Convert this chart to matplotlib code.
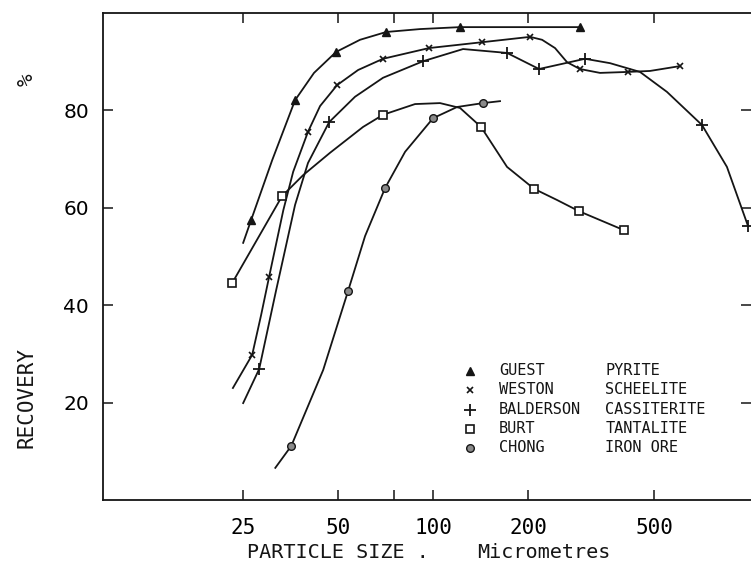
import matplotlib.pyplot as plt
from matplotlib.ticker import FixedLocator, NullFormatter
from matplotlib.lines import Line2D

# recovery (%) against particle size (micrometres), traced curve points;
# *_marks are the indices of the measured points drawn with a symbol
guest_x = [25.0, 26.5, 30.9, 36.5, 41.9, 49.2, 58.6, 70.9, 90.8, 121.5, 291]
guest_y = [52.8, 57.5, 69.8, 82.1, 87.7, 92.0, 94.5, 96.1, 96.7, 97.1, 97.1]
guest_marks = [1, 3, 5, 7, 9, 10]

weston_x = [23.2, 26.7, 28.5, 30.2, 33.5, 36.0, 40.1, 43.8, 49.6, 57.8, 69.3,
            96.9, 142.6, 202.4, 220.9, 242.8, 265, 291, 337, 413, 485, 604]
weston_y = [23.0, 29.8, 38.0, 45.8, 59.5, 67.4, 75.6, 80.9, 85.2, 88.3, 90.6,
            92.8, 94.0, 95.1, 94.5, 92.8, 89.9, 88.5, 87.7, 87.9, 88.1, 89.1]
weston_marks = [1, 3, 6, 8, 10, 11, 12, 13, 17, 19, 21]

balderson_x = [25.0, 28.1, 31.8, 36.5, 40.1, 46.8, 56.5, 69.3, 92.8, 124.2,
               171.1, 216.1, 302.1, 362.5, 451, 549, 708.7, 850, 990.8]
balderson_y = [19.9, 26.9, 43.1, 60.6, 69.2, 77.6, 82.8, 86.7, 90.1, 92.6,
               91.8, 88.5, 90.6, 89.7, 87.9, 83.8, 77.0, 68.4, 56.3]
balderson_marks = [1, 5, 8, 10, 11, 12, 16, 18]

burt_x = [23.1, 33.2, 38.7, 47.1, 59.9, 69.3, 87.5, 105.0, 121.5, 141.6,
          171.1, 208.4, 246.4, 289.2, 401.4]
burt_y = [44.6, 62.4, 66.7, 71.3, 76.6, 79.1, 81.3, 81.5, 80.5, 76.6,
          68.4, 63.9, 61.6, 59.3, 55.4]
burt_marks = [0, 1, 5, 9, 11, 13, 14]

chong_x = [31.6, 35.5, 44.8, 53.7, 60.8, 70.4, 81.4, 99.8, 118.9, 143.7, 162.6]
chong_y = [6.6, 11.1, 26.7, 42.9, 54.2, 64.1, 71.5, 78.4, 80.7, 81.5, 81.9]
chong_marks = [1, 3, 5, 7, 9]

workers = ["GUEST", "WESTON", "BALDERSON", "BURT", "CHONG"]
minerals = ["PYRITE", "SCHEELITE", "CASSITERITE", "TANTALITE", "IRON ORE"]

x_ticks = [25, 50, 100, 200, 500]
x_minor = [75]
y_ticks = [20, 40, 60, 80]

ink = "#151515"
mono = "DejaVu Sans Mono"

styles = [
    dict(marker="^", ms=6, mfc=ink, mec=ink),
    dict(marker="x", ms=5, mew=1.2, mec=ink),
    dict(marker="+", ms=8, mew=1.3, mec=ink),
    dict(marker="s", ms=6, mfc="white", mec=ink, mew=1.2),
    dict(marker="o", ms=5.5, mfc="#8a8a8a", mec=ink, mew=1.0),
]
series = [
    (guest_x, guest_y, guest_marks),
    (weston_x, weston_y, weston_marks),
    (balderson_x, balderson_y, balderson_marks),
    (burt_x, burt_y, burt_marks),
    (chong_x, chong_y, chong_marks),
]

W, H = 751, 565
fig = plt.figure(figsize=(W / 100, H / 100), dpi=100)
ax = fig.add_axes([103 / W, 65 / H, (W - 103) / W, 487 / H])

for (xs, ys, marks), st in zip(series, styles):
    ax.plot(xs, ys, color=ink, lw=1.3, markevery=marks, **st)

ax.set_xscale("log")
ax.set_xlim(9.0, 1013)
ax.set_ylim(0, 100)

ax.xaxis.set_major_locator(FixedLocator(x_ticks))
ax.set_xticklabels([str(t) for t in x_ticks], fontfamily=mono, fontsize=15)
ax.xaxis.set_minor_locator(FixedLocator(x_minor))
ax.xaxis.set_minor_formatter(NullFormatter())
ax.set_yticks(y_ticks)
ax.set_yticklabels([str(t) for t in y_ticks], fontsize=14.5)

ax.tick_params(which="both", direction="in", length=7, width=1.1,
               top=True, right=True, color=ink)
ax.tick_params(axis="x", pad=13)
ax.tick_params(axis="y", pad=10)

ax.spines["right"].set_visible(False)
for side in ["left", "bottom", "top"]:
    ax.spines[side].set_linewidth(1.3)
    ax.spines[side].set_color(ink)

# legend: symbol, worker and mineral in three columns
rows_y = [0.265, 0.226, 0.185, 0.146, 0.107]
for st, who, what, ry in zip(styles, workers, minerals, rows_y):
    ax.add_line(Line2D([0.566], [ry], transform=ax.transAxes, color=ink,
                       ls="none", **st))
    ax.text(0.611, ry, who, transform=ax.transAxes, fontfamily=mono,
            fontsize=11, va="center", ha="left", color=ink)
    ax.text(0.775, ry, what, transform=ax.transAxes, fontfamily=mono,
            fontsize=11, va="center", ha="left", color=ink)

# axis titles
fig.text(247 / W, 1 - 552 / H, "PARTICLE SIZE .", fontfamily=mono,
         fontsize=14.5, ha="left", va="center", color=ink)
fig.text(544 / W, 1 - 552 / H, "Micrometres", fontfamily=mono,
         fontsize=14.5, ha="center", va="center", color=ink)
fig.text(27 / W, 1 - 398 / H, "RECOVERY", fontfamily=mono, fontsize=15,
         rotation=90, ha="center", va="center", color=ink)
fig.text(27 / W, 1 - 80 / H, "%", fontfamily=mono, fontsize=15,
         rotation=90, ha="center", va="center", color=ink)

fig.savefig("out.png", dpi=100)
